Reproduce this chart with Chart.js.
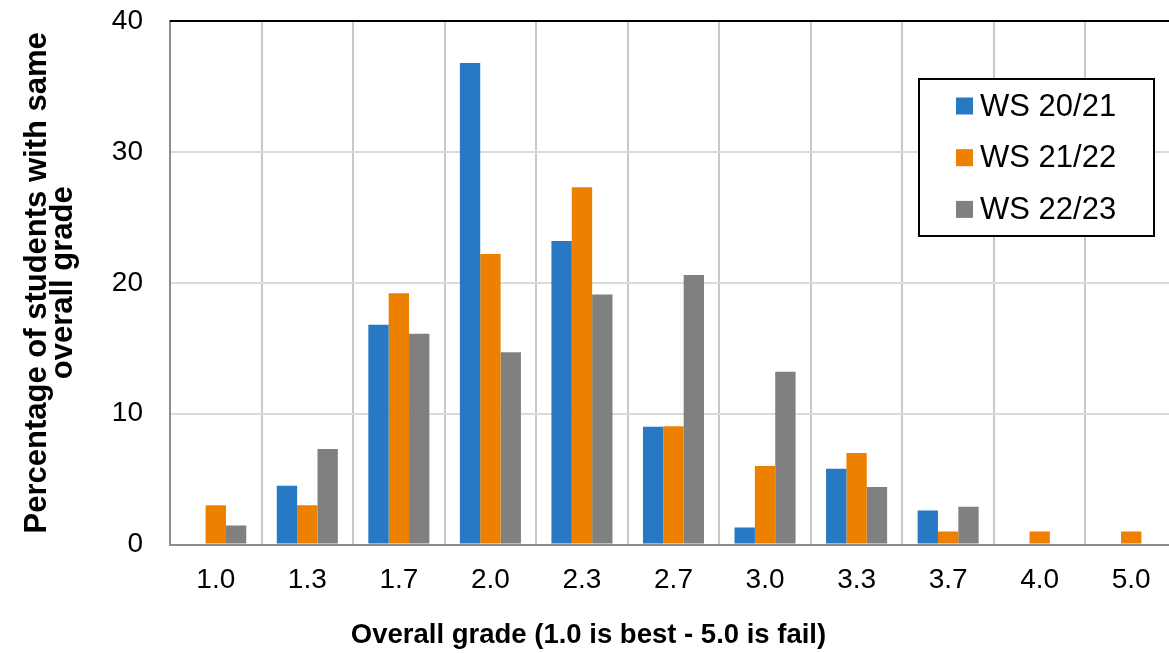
<!DOCTYPE html>
<html>
<head>
<meta charset="utf-8">
<script src="https://cdn.jsdelivr.net/npm/chart.js@4/dist/chart.umd.min.js"></script>
<style>
    html, body { margin: 0; padding: 0; background: #fff; overflow: hidden; }
    #grades { display: block; }
</style>
</head>
<body>
<canvas id="grades" width="1177" height="653"></canvas>
<script>
    "use strict";

    var gradeLabels = ['1.0', '1.3', '1.7', '2.0', '2.3', '2.7', '3.0', '3.3', '3.7', '4.0', '5.0'];
    var ws2021 = [0, 4.5, 16.8, 36.8, 23.2, 9.0, 1.3, 5.8, 2.6, 0, 0];
    var ws2122 = [3.0, 3.0, 19.2, 22.2, 27.3, 9.05, 6.0, 7.0, 1.0, 1.0, 1.0];
    var ws2223 = [1.45, 7.3, 16.1, 14.7, 19.1, 20.6, 13.2, 4.4, 2.9, 0, 0];
    var seriesNames = ['WS 20/21', 'WS 21/22', 'WS 22/23'];
    var yTicks = [0, 10, 20, 30, 40];

    var fontFamily = "'Liberation Sans', Arial, sans-serif";

    var frameAndLegend = {
        id: 'frameAndLegend',
        afterDraw: function (chart) {
            var ctx = chart.ctx;
            var area = chart.chartArea;

            ctx.save();
            ctx.strokeStyle = '#000';
            ctx.lineWidth = 2;
            ctx.beginPath();
            ctx.moveTo(area.left, area.top);
            ctx.lineTo(area.right, area.top);
            ctx.stroke();

            var box = { x: 919, y: 79, w: 235, h: 157 };
            ctx.fillStyle = '#fff';
            ctx.fillRect(box.x, box.y, box.w, box.h);
            ctx.strokeStyle = '#000';
            ctx.lineWidth = 2;
            ctx.strokeRect(box.x, box.y, box.w, box.h);

            ctx.font = '31px ' + fontFamily;
            ctx.textBaseline = 'middle';
            ctx.textAlign = 'left';
            chart.data.datasets.forEach(function (ds, i) {
                var cy = box.y + 27 + i * 51.7;
                ctx.fillStyle = ds.backgroundColor;
                ctx.fillRect(box.x + 37, cy - 8.5, 17, 17);
                ctx.fillStyle = '#000';
                ctx.fillText(ds.label, box.x + 61, cy + 1);
            });
            ctx.restore();
        }
    };

    var data = {
        labels: gradeLabels,
        datasets: [{
            label: seriesNames[0],
            backgroundColor: '#2779C3',
            data: ws2021
        }, {
            label: seriesNames[1],
            backgroundColor: '#EE8000',
            data: ws2122
        }, {
            label: seriesNames[2],
            backgroundColor: '#808080',
            data: ws2223
        }]
    };

    var options = {
        responsive: false,
        animation: false,
        layout: {
            padding: { top: 21, left: 0, right: 0, bottom: 0 }
        },
        datasets: {
            bar: {
                categoryPercentage: 0.667,
                barPercentage: 1.0
            }
        },
        plugins: {
            legend: { display: false },
            tooltip: { enabled: false },
            title: {
                display: true,
                position: 'bottom',
                text: 'Overall grade (1.0 is best - 5.0 is fail)',
                color: '#000',
                font: { family: fontFamily, size: 27.5, weight: 'bold', lineHeight: 1.2 },
                padding: { top: 0, bottom: 1 }
            }
        },
        scales: {
            x: {
                offset: true,
                grid: {
                    offset: true,
                    color: '#c8c8c8',
                    lineWidth: 2,
                    drawTicks: false
                },
                border: { color: '#8c8c8c', width: 2 },
                ticks: {
                    color: '#000',
                    padding: 19,
                    autoSkip: false,
                    maxRotation: 0,
                    font: { family: fontFamily, size: 28 }
                },
                afterFit: function (scale) {
                    scale.height = 74.4;
                }
            },
            y: {
                min: 0,
                max: 40,
                afterBuildTicks: function (scale) {
                    scale.ticks = yTicks.map(function (v) { return { value: v }; });
                },
                grid: {
                    color: '#dadada',
                    lineWidth: 2,
                    drawTicks: false
                },
                border: { color: '#8c8c8c', width: 2 },
                ticks: {
                    color: '#000',
                    padding: 27,
                    font: { family: fontFamily, size: 28 }
                },
                title: {
                    display: true,
                    text: ['Percentage of students with same', 'overall grade'],
                    color: '#000',
                    font: { family: fontFamily, size: 31, weight: 'bold', lineHeight: '26px' },
                    padding: { top: 24, bottom: 0 }
                },
                afterFit: function (scale) {
                    scale.width = 170;
                    scale.paddingTop = 0;
                    scale.paddingBottom = 0;
                }
            }
        }
    };

    new Chart(document.getElementById('grades'), {
        type: 'bar',
        data: data,
        options: options,
        plugins: [frameAndLegend]
    });
</script>
</body>
</html>
